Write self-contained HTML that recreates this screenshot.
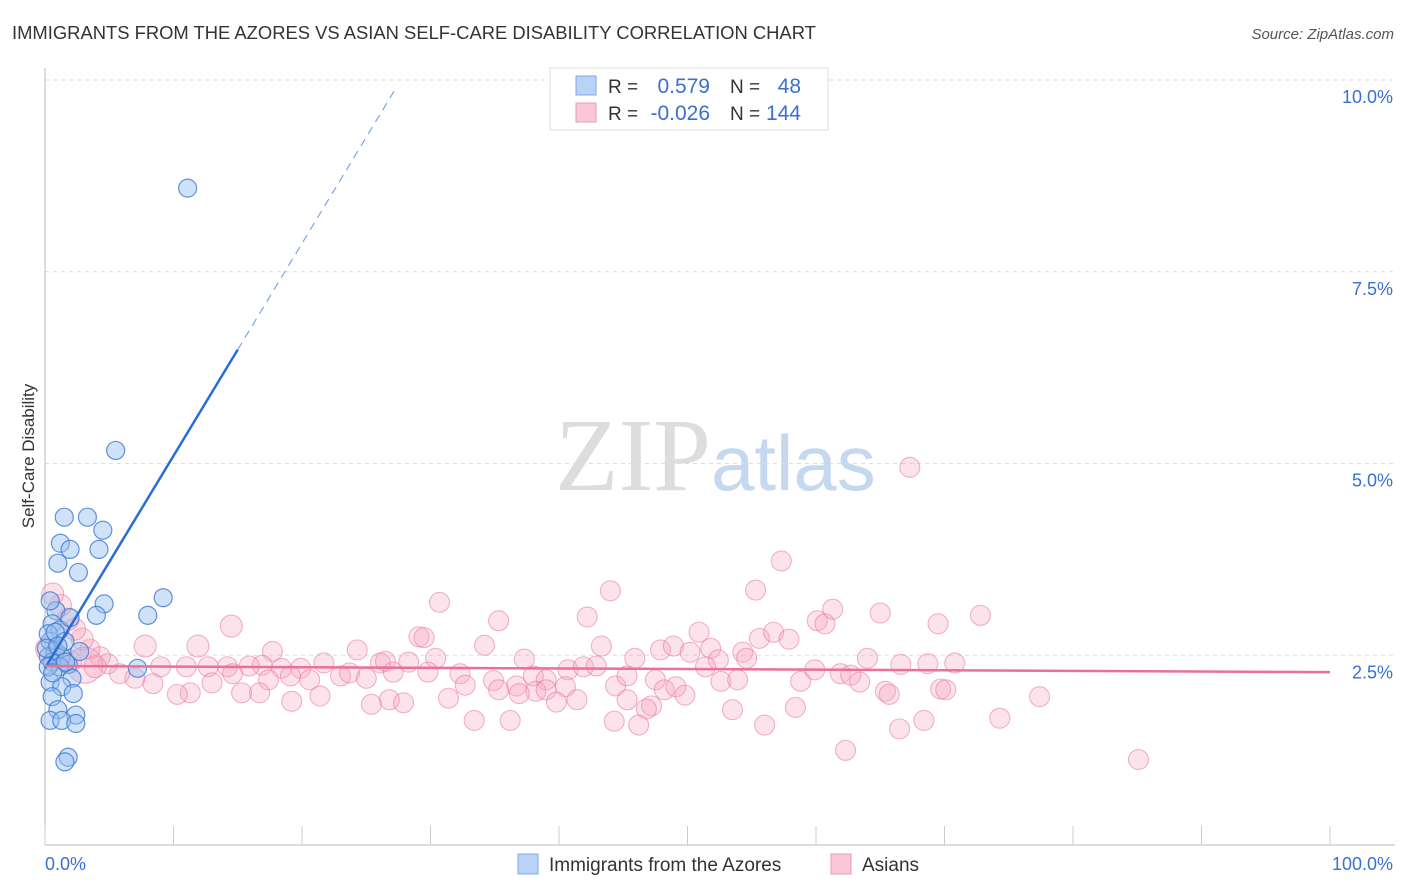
<!DOCTYPE html>
<html><head><meta charset="utf-8">
<style>
body{margin:0;background:#fff;font-family:"Liberation Sans",sans-serif;}
svg{display:block}
</style></head>
<body>
<svg id="chart" width="1406" height="892" xmlns="http://www.w3.org/2000/svg" font-family="Liberation Sans, sans-serif">
<text x="12" y="39" font-size="18.4" fill="#333">IMMIGRANTS FROM THE AZORES VS ASIAN SELF-CARE DISABILITY CORRELATION CHART</text>
<text x="1394" y="39" font-size="15" fill="#555" text-anchor="end" font-style="italic">Source: ZipAtlas.com</text>
<text x="555" y="490" font-size="104" fill="#ddd" font-family="Liberation Serif, serif">ZIP<tspan fill="#c6d8ef" font-family="Liberation Sans, sans-serif" font-size="78">atlas</tspan></text>
<text transform="translate(34,456) rotate(-90)" font-size="17" fill="#333" text-anchor="middle">Self-Care Disability</text>
<g id="grid"></g>
<g id="axes"></g>
<g id="pinkpts"></g>
<g id="bluepts"></g>
<g id="trends"></g>
<g>
<rect x="550" y="68" width="278" height="62" fill="#fff" stroke="#ddd"/>
<rect x="576" y="76" width="20" height="19" fill="#b8d3f5" stroke="#7eaae6"/>
<rect x="576" y="103" width="20" height="19" fill="#f9c7d6" stroke="#ee9ab3"/>
<text x="608" y="93" font-size="19" fill="#333">R =</text>
<text x="710" y="93" font-size="21" fill="#3a70d0" text-anchor="end">0.579</text>
<text x="730" y="93" font-size="19" fill="#333">N =</text>
<text x="801" y="93" font-size="21" fill="#3a70d0" text-anchor="end">48</text>
<text x="608" y="120" font-size="19" fill="#333">R =</text>
<text x="710" y="120" font-size="21" fill="#3a70d0" text-anchor="end">-0.026</text>
<text x="730" y="120" font-size="19" fill="#333">N =</text>
<text x="801" y="120" font-size="21" fill="#3a70d0" text-anchor="end">144</text>
</g>
<g>
<rect x="518" y="854" width="20" height="20" fill="#b8d3f5" stroke="#7eaae6"/>
<text x="549" y="871" font-size="19" fill="#333">Immigrants from the Azores</text>
<rect x="831" y="854" width="20" height="20" fill="#f9c7d6" stroke="#ee9ab3"/>
<text x="862" y="871" font-size="19" fill="#333">Asians</text>
</g>
</svg>
<script>
const yTicks=[2.5,5.0,7.5,10.0];
const yTickLabels=["2.5%","5.0%","7.5%","10.0%"];
const xTicks=[0,10,20,30,40,50,60,70,80,90,100];
const blueX=[11.1,5.5,1.5,3.3,4.5,1.2,1.95,4.2,1.0,2.6,9.2,4.6,8.0,4.0,0.85,0.55,1.15,0.4,0.8,1.3,0.25,0.55,1.8,1.15,7.2,2.1,0.4,1.3,2.2,0.55,1.0,2.4,0.4,1.3,2.4,1.8,1.55,0.25,0.1,0.8,1.95,1.55,1.0,0.25,0.6,2.7,1.6,0.4];
const blueY=[8.59,5.17,4.30,4.30,4.13,3.96,3.88,3.88,3.70,3.58,3.25,3.17,3.02,3.02,3.08,2.91,2.83,2.68,2.55,2.48,2.48,2.41,2.38,2.35,2.33,2.20,2.15,2.09,2.00,1.96,1.79,1.72,1.65,1.65,1.61,1.17,1.11,2.78,2.59,2.80,2.99,2.68,2.62,2.35,2.27,2.55,2.41,3.21];
const pinkX=[67.3,57.3,44.0,55.3,30.7,42.2,35.3,61.3,65.0,72.8,60.1,60.7,69.5,14.5,29.1,29.5,7.8,11.9,17.7,34.2,43.3,50.9,51.8,24.3,26.1,28.3,30.4,37.3,45.9,47.9,48.9,50.2,54.3,55.6,56.7,57.9,54.6,52.4,64.0,66.6,68.7,70.8,26.5,21.7,19.9,18.4,16.9,15.9,14.2,12.7,11.0,9.0,14.6,17.4,19.1,20.6,23.0,23.7,25.0,27.1,29.8,32.3,32.7,34.9,38.0,39.0,40.7,41.9,42.9,44.4,45.3,47.5,48.2,49.1,51.4,52.6,53.9,58.8,59.9,61.9,62.7,63.4,65.4,65.7,69.7,70.1,77.4,36.7,38.2,39.0,40.5,41.4,39.8,36.9,35.3,19.2,21.4,26.8,27.9,25.4,31.4,45.3,47.2,46.8,49.8,58.4,53.5,44.3,46.2,33.4,36.2,56.0,68.4,66.5,74.3,85.1,62.3,15.3,16.7,13.0,11.3,10.3,8.4,7.0,5.8,4.9,4.3,3.5,2.9,2.3,1.8,1.2,0.6,0.2,1.0,1.9,3.1,3.9,5.1];
const pinkY=[4.95,3.73,3.34,3.35,3.19,3.00,2.95,3.10,3.05,3.02,2.95,2.91,2.91,2.88,2.74,2.73,2.62,2.62,2.55,2.63,2.62,2.80,2.59,2.57,2.40,2.41,2.46,2.45,2.46,2.57,2.62,2.54,2.54,2.72,2.80,2.71,2.46,2.44,2.46,2.38,2.39,2.40,2.42,2.40,2.33,2.33,2.37,2.36,2.35,2.35,2.35,2.35,2.26,2.18,2.23,2.18,2.23,2.27,2.20,2.28,2.28,2.26,2.11,2.17,2.23,2.18,2.31,2.35,2.36,2.10,2.23,2.18,2.05,2.09,2.35,2.16,2.18,2.16,2.31,2.26,2.24,2.15,2.03,1.99,2.06,2.05,1.96,2.10,2.03,2.05,2.09,1.92,1.89,2.00,2.05,1.90,1.97,1.92,1.88,1.86,1.94,1.92,1.84,1.80,1.98,1.82,1.79,1.64,1.59,1.65,1.65,1.59,1.65,1.54,1.68,1.14,1.26,2.01,2.01,2.14,2.01,1.99,2.13,2.20,2.26,2.39,2.48,2.58,2.71,2.84,2.97,3.15,3.30,2.58,2.48,2.42,2.37,2.35];
const pinkR=[10,10,10,10,10,10,10,10,10,10,10,10,10,11,10,10,11,11,10,10,10,10,10,10,10,10,10,10,10,10,10,10,10,10,10,10,10,10,10,10,10,10,10,10,10,10,10,10,10,10,10,10,10,10,10,10,10,10,10,10,10,10,10,10,10,10,10,10,10,10,10,10,10,10,10,10,10,10,10,10,10,10,10,10,10,10,10,10,10,10,10,10,10,10,10,10,10,10,10,10,10,10,10,10,10,10,10,10,10,10,10,10,10,10,10,10,10,10,10,10,10,10,10,10,10,10,10,10,11,11,11,11,11,12,12,12,18,11,11,11,10,10];
const blueTrend=[2.33,0.277]; // intercept, slope (per %)
const pinkTrend=[2.36,-0.0008];
const X=v=>45+v*12.85, Y=v=>847-v*76.7;
const NS="http://www.w3.org/2000/svg";
function mk(tag,parent,attrs){const e=document.createElementNS(NS,tag);for(const k in attrs)e.setAttribute(k,attrs[k]);document.getElementById(parent).appendChild(e);return e;}
yTicks.forEach((t,i)=>{
 const g=mk('line','grid',{x1:45,x2:1395,y1:Y(t),y2:Y(t),stroke:'#ddd','stroke-dasharray':'4,4'});
 
 
 const tx=mk('text','grid',{x:1393,y:Y(t)+23,'font-size':18,fill:'#3a70d0','text-anchor':'end'});
 tx.textContent=yTickLabels[i];
 
 
});
const ax=mk('line','axes',{x1:45,x2:1395,y1:845,y2:845,stroke:'#bbb'});


const ay=mk('line','axes',{x1:45,x2:45,y1:68,y2:845,stroke:'#bbb'});


xTicks.forEach(t=>{const l=mk('line','axes',{x1:X(t),x2:X(t),y1:826,y2:845,stroke:'#ccc'});
 
 });
const x0=mk('text','axes',{x:45,y:870,'font-size':18,fill:'#3a70d0'});x0.textContent='0.0%';


const x1=mk('text','axes',{x:1393,y:870,'font-size':18,fill:'#3a70d0','text-anchor':'end'});x1.textContent='100.0%';


const nP=Math.min(pinkX.length,pinkY.length);
for(let i=0;i<nP;i++){const c=mk('circle','pinkpts',{cx:X(pinkX[i]),cy:Y(pinkY[i]),r:pinkR[i]||10,fill:'rgba(246,165,192,0.32)',stroke:'rgba(232,120,155,0.55)','stroke-width':1.1});
 
 }
blueX.forEach((v,i)=>{const c=mk('circle','bluepts',{cx:X(v),cy:Y(blueY[i]),r:9,fill:'rgba(150,190,240,0.45)',stroke:'rgba(60,120,210,0.8)','stroke-width':1.2});
 
 });
const bt=v=>blueTrend[0]+blueTrend[1]*v;
const b1=mk('line','trends',{x1:X(0),y1:Y(bt(0)),x2:X(15),y2:Y(bt(15)),stroke:'#2a6dd6','stroke-width':2.5});


const b2=mk('line','trends',{x1:X(15),y1:Y(bt(15)),x2:X(27.4),y2:Y(bt(27.4)),stroke:'#7aa6e6','stroke-width':1.2,'stroke-dasharray':'8,6'});


const pt=v=>pinkTrend[0]+pinkTrend[1]*v;
const p1=mk('line','trends',{x1:X(0),y1:Y(pt(0)),x2:X(100),y2:Y(pt(100)),stroke:'#e8709a','stroke-width':2.5});


</script>
</body></html>
